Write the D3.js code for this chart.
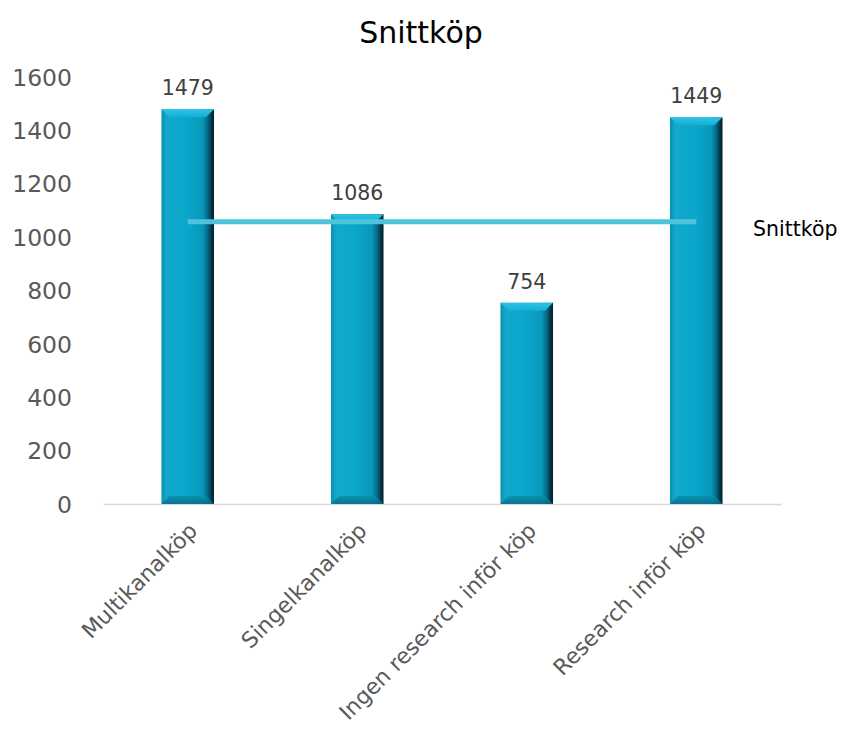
<!DOCTYPE html>
<html>
<head>
<meta charset="utf-8">
<script src="https://cdn.jsdelivr.net/npm/d3@7"></script>
<style>
  html, body { margin: 0; padding: 0; background: #fff; }
  svg { display: block; font-family: "DejaVu Sans", Verdana, sans-serif; }
</style>
</head>
<body>
<svg id="chart" width="845" height="744"></svg>
<script>
const categories = ["Multikanalköp", "Singelkanalköp", "Ingen research inför köp", "Research inför köp"];
const values = [1479, 1086, 754, 1449];
const averageValue = 1058;
const yTicks = [0, 200, 400, 600, 800, 1000, 1200, 1400, 1600];
const chartTitle = "Snittköp";
const lineLabel = "Snittköp";

const svg = d3.select("#chart");
const FONT = "DejaVu Sans, Verdana, sans-serif";

const x = d3.scaleBand().domain(categories).range([103, 781]).paddingInner(0.69).paddingOuter(0.345);
const y = d3.scaleLinear().domain([0, 1600]).range([504, 77]);

const defs = svg.append("defs");
const g = defs.append("linearGradient").attr("id", "barFace").attr("x1", 0).attr("x2", 1).attr("y1", 0).attr("y2", 0);
[[0, "#0a8fb0"], [0.1, "#12a9cc"], [0.5, "#0aa6ca"], [0.78, "#0898ba"], [0.88, "#066a85"], [0.95, "#043545"], [1, "#02202b"]]
  .forEach(([o, c]) => g.append("stop").attr("offset", o).attr("stop-color", c));
const gt = defs.append("linearGradient").attr("id", "barTop").attr("x1", 0).attr("x2", 0).attr("y1", 0).attr("y2", 1);
[[0, "#2cc3e6"], [1, "#15aed2"]].forEach(([o, c]) => gt.append("stop").attr("offset", o).attr("stop-color", c));
const gb = defs.append("linearGradient").attr("id", "barBottom").attr("x1", 0).attr("x2", 0).attr("y1", 0).attr("y2", 1);
[[0, "#0a8fae"], [1, "#066b86"]].forEach(([o, c]) => gb.append("stop").attr("offset", o).attr("stop-color", c));

// Title
svg.append("text").attr("x", 421).attr("y", 43).attr("text-anchor", "middle")
  .attr("font-size", 30).attr("fill", "#000").text(chartTitle);

// Y axis tick labels (no axis line)
const yAxis = d3.axisLeft(y).tickValues(yTicks).tickFormat(d3.format("d")).tickSize(0).tickPadding(0);
const ya = svg.append("g").attr("transform", "translate(72,0)").call(yAxis);
ya.select(".domain").remove();
ya.selectAll("text").attr("font-size", 23.5).attr("fill", "#595959")
  .attr("font-family", FONT).attr("x", 0).attr("dy", "0.35em");

// X axis baseline and rotated category labels
const xAxis = d3.axisBottom(x).tickSize(0).tickPadding(0);
const xa = svg.append("g").attr("transform", "translate(0,504)").call(xAxis);
xa.select(".domain").attr("stroke", "#d9d9d9").attr("stroke-width", 1.5);
xa.selectAll("text")
  .attr("font-size", 22).attr("fill", "#595959")
  .attr("font-family", FONT)
  .attr("text-anchor", "end")
  .attr("dy", null).attr("y", 0)
  .attr("transform", "translate(11,28) rotate(-45)");

// Bars with bevelled edges
const bevel = 8;
const bars = svg.append("g").selectAll("g").data(values).join("g");
bars.each(function (v, i) {
  const gEl = d3.select(this);
  const x0 = x(categories[i]), w = x.bandwidth(), x1 = x0 + w;
  const yTop = y(v), yBase = y(0);
  gEl.append("rect").attr("x", x0).attr("y", yTop).attr("width", w).attr("height", yBase - yTop)
    .attr("fill", "url(#barFace)");
  gEl.append("polygon")
    .attr("points", [[x0, yTop], [x1, yTop], [x1 - bevel, yTop + bevel], [x0 + bevel, yTop + bevel]].join(" "))
    .attr("fill", "url(#barTop)");
  gEl.append("polygon")
    .attr("points", [[x0, yBase], [x1, yBase], [x1 - bevel, yBase - bevel], [x0 + bevel, yBase - bevel]].join(" "))
    .attr("fill", "url(#barBottom)").attr("opacity", 0.85);
});

// Value labels
svg.append("g").selectAll("text").data(values).join("text")
  .attr("x", (d, i) => x(categories[i]) + x.bandwidth() / 2)
  .attr("y", d => y(d) - 14)
  .attr("text-anchor", "middle").attr("font-size", 20.5).attr("fill", "#404040")
  .text(d => d);

// Average line across bar centres
const cx0 = x(categories[0]) + x.bandwidth() / 2;
const cx1 = x(categories[categories.length - 1]) + x.bandwidth() / 2;
svg.append("line").attr("x1", cx0).attr("x2", cx1)
  .attr("y1", y(averageValue)).attr("y2", y(averageValue))
  .attr("stroke", "#4ec4dc").attr("stroke-width", 5);

// Legend label for the line
svg.append("text").attr("x", 753).attr("y", 236)
  .attr("font-size", 20.5).attr("fill", "#000").text(lineLabel);
</script>
</body>
</html>
